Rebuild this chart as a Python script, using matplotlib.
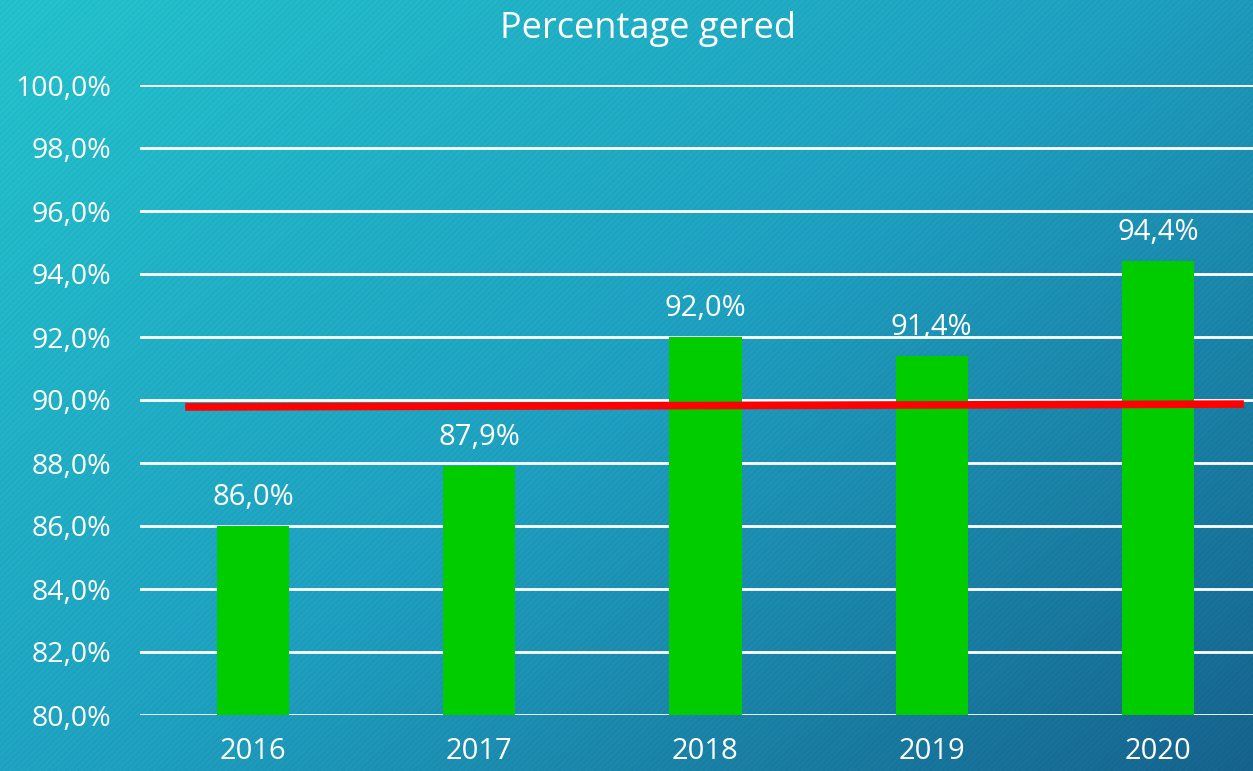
import numpy as np
import matplotlib
matplotlib.use("Agg")
import matplotlib.pyplot as plt
from matplotlib.ticker import FuncFormatter

years = ["2016", "2017", "2018", "2019", "2020"]
values = [86.0, 87.9, 92.0, 91.4, 94.4]
labels = ["86,0%", "87,9%", "92,0%", "91,4%", "94,4%"]
target_x = [-0.30, 4.38]
target_y = [89.78, 89.87]
title = "Percentage gered"

W, H = 1253, 771
fig = plt.figure(figsize=(W / 100, H / 100), dpi=100)
plt.rcParams['font.family'] = ['Open Sans', 'DejaVu Sans']

# background gradient with diagonal stripes
bg = fig.add_axes([0, 0, 1, 1])
yy, xx = np.mgrid[0:H, 0:W]
t = (xx / W * 0.55 + yy / H * 0.45)
c0 = np.array([36, 196, 206]) / 255
c1 = np.array([31, 162, 194]) / 255
c2 = np.array([22, 100, 142]) / 255
tt = np.clip(t, 0, 1)[..., None]
img = np.where(tt < 0.5, c0 + (c1 - c0) * (tt / 0.5), c1 + (c2 - c1) * ((tt - 0.5) / 0.5))
stripes = (np.sin((xx + yy) * 2 * np.pi / 6) > 0.3).astype(float)[..., None]
img = img * (1 - 0.04 * stripes)
bg.imshow(img, aspect='auto', extent=[0, W, H, 0])
bg.axis('off')

left, right = 140 / W, 1271 / W
bottom, top = 1 - 715 / H, 1 - 85 / H
ax = fig.add_axes([left, bottom, right - left, top - bottom])
ax.patch.set_alpha(0)
x = np.arange(len(years))
ax.bar(x, values, width=0.32, color='#00CC00', zorder=3)
ax.plot(target_x, target_y, color='#FF0000', lw=5.5, zorder=4, solid_capstyle='butt')
for xi, v, lab in zip(x, values, labels):
    ax.text(xi, v + 0.45, lab, ha='center', va='bottom', color='white', fontsize=21, zorder=5)

ax.set_xlim(-0.5, 4.5)
ax.set_ylim(80, 100)
ax.set_yticks(np.arange(80, 100.1, 2))
ax.yaxis.set_major_formatter(FuncFormatter(lambda v, p: f"{v:.1f}".replace('.', ',') + "%"))
ax.set_xticks(x)
ax.set_xticklabels(years)
ax.grid(axis='y', color='white', lw=2, zorder=1)
for s in ax.spines.values():
    s.set_visible(False)
ax.tick_params(axis='both', length=0, colors='white')
ax.tick_params(axis='y', pad=21, labelsize=20.5)
ax.tick_params(axis='x', pad=16, labelsize=21)

fig.text(648 / W, 1 - 29 / H, title, ha='center', va='center', color='white', fontsize=26)

fig.savefig("out.png", dpi=100)
